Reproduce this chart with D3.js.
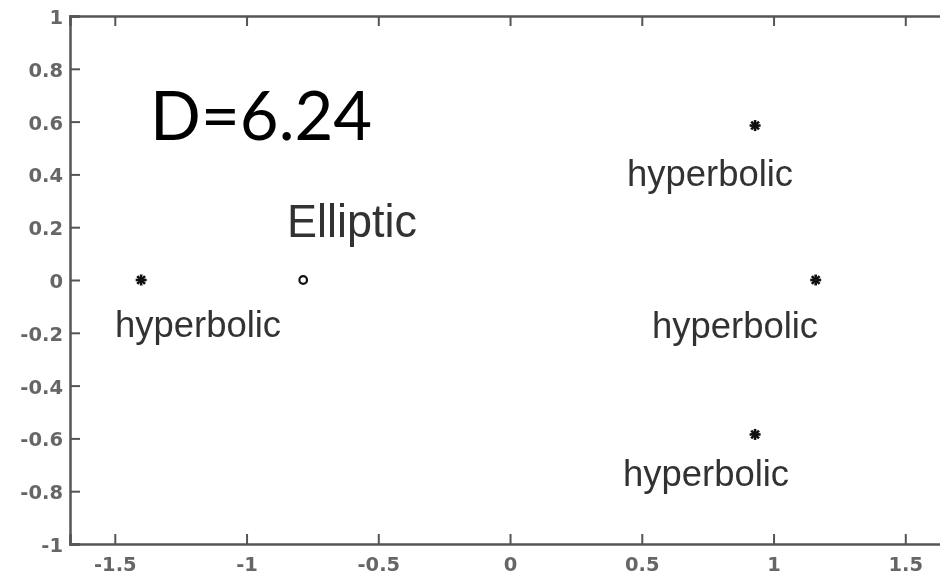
<!DOCTYPE html>
<html>
<head>
<meta charset="utf-8">
<script src="https://cdn.jsdelivr.net/npm/d3@7"></script>
<style>
	body { margin: 0; background: #fff; }
	svg { display: block; }
</style>
</head>
<body>
<div id="plot"></div>
<script>
	// Fixed points of the map for D=6.24

	const w = 940;
	const h = 579;

	const xTicks = [-1.5, -1, -0.5, 0, 0.5, 1, 1.5];
	const xTickLabels = ["-1.5", "-1", "-0.5", "0", "0.5", "1", "1.5"];
	const yTicks = [-1, -0.8, -0.6, -0.4, -0.2, 0, 0.2, 0.4, 0.6, 0.8, 1];
	const yTickLabels = ["-1", "-0.8", "-0.6", "-0.4", "-0.2", "0", "0.2", "0.4", "0.6", "0.8", "1"];

	const hyperbolicX = [-1.40, 0.93, 1.16, 0.93];
	const hyperbolicY = [0, 0.585, 0, -0.585];

	const ellipticX = [-0.785];
	const ellipticY = [0];

	const labelText = ["hyperbolic", "hyperbolic", "hyperbolic", "hyperbolic", "Elliptic"];
	const labelX = [-1.499, 0.444, 0.539, 0.429, -0.846];
	const labelY = [-0.216, 0.356, -0.22, -0.78, 0.163];

	const titleText = "D=6.24";
	const titleX = -1.366;
	const titleY = 0.53;

	let xScale = d3.scaleLinear()
		.domain([-1.67, 1.68])
		.range([70, 70 + 3.35 * 263.5]);

	let yScale = d3.scaleLinear()
		.domain([-1, 1])
		.range([544, 16]);

	const svg = d3.select("body")
		.select("div#plot")
		.append("svg")
		.attr("width", w)
		.attr("height", h);

	svg.append("rect")
		.attr("width", w)
		.attr("height", h)
		.attr("fill", "white");

	const defs = svg.append("defs");
	defs.append("filter")
		.attr("id", "soft")
		.append("feGaussianBlur")
		.attr("stdDeviation", 0.5);

	// axes (ticks pointing inward, like matlab)

	const axisColor = "#555";

	const bottomAxis = d3.axisBottom(xScale)
		.tickValues(xTicks)
		.tickSize(-10)
		.tickPadding(13)
		.tickFormat((d, i) => xTickLabels[i]);

	const topAxis = d3.axisTop(xScale)
		.tickValues(xTicks)
		.tickSize(-10)
		.tickFormat("");

	const leftAxis = d3.axisLeft(yScale)
		.tickValues(yTicks)
		.tickSize(-10)
		.tickPadding(7)
		.tickFormat((d, i) => yTickLabels[i]);

	const gx = svg.append("g")
		.attr("transform", `translate(0, ${yScale(-1)})`)
		.call(bottomAxis);

	const gt = svg.append("g")
		.attr("transform", `translate(0, ${yScale(1)})`)
		.call(topAxis);

	const gy = svg.append("g")
		.attr("transform", `translate(${xScale.range()[0]}, 0)`)
		.call(leftAxis);

	[gx, gt, gy].forEach(g => {
		g.select(".domain")
			.attr("stroke", axisColor)
			.attr("stroke-width", 2.5);
		g.selectAll(".tick line")
			.attr("stroke", axisColor)
			.attr("stroke-width", 2);
		g.selectAll(".tick text")
			.attr("fill", "#666")
			.attr("font-family", "DejaVu Sans")
			.attr("font-weight", "bold")
			.attr("font-size", 19.5)
			.attr("filter", "url(#soft)");
	});
	gy.selectAll(".tick text").attr("dy", "0.38em");

	// markers

	const pts = svg.append("g");

	pts.selectAll("g.hyp")
		.data(hyperbolicX)
		.enter().append("g")
		.attr("class", "hyp")
		.attr("transform", (d, i) => `translate(${xScale(d)}, ${yScale(hyperbolicY[i])})`)
		.each(function () {
			const g = d3.select(this);
			[0, 45, 90, 135].forEach(a => {
				g.append("line")
					.attr("x1", -5.5).attr("x2", 5.5)
					.attr("y1", 0).attr("y2", 0)
					.attr("transform", `rotate(${a})`)
					.attr("stroke", "#111")
					.attr("stroke-width", 2.6);
			});
		});

	pts.selectAll("circle.ell")
		.data(ellipticX)
		.enter().append("circle")
		.attr("class", "ell")
		.attr("cx", d => xScale(d))
		.attr("cy", (d, i) => yScale(ellipticY[i]))
		.attr("r", 3.8)
		.attr("fill", "none")
		.attr("stroke", "#111")
		.attr("stroke-width", 2.2);

	// labels

	svg.append("g")
		.selectAll("text")
		.data(labelText)
		.enter().append("text")
		.attr("x", (d, i) => xScale(labelX[i]))
		.attr("y", (d, i) => yScale(labelY[i]))
		.attr("font-family", "Liberation Sans, Arial, sans-serif")
		.attr("font-size", d => d == "Elliptic" ? 46 : 36)
		.attr("fill", "#333")
		.attr("filter", "url(#soft)")
		.attr("textLength", d => d == "Elliptic" ? 130 : 166)
		.attr("lengthAdjust", "spacingAndGlyphs")
		.text(d => d);

	svg.append("text")
		.attr("x", xScale(titleX))
		.attr("y", yScale(titleY))
		.attr("font-family", "Lato, sans-serif")
		.attr("font-size", 68)
		.attr("fill", "#000")
		.attr("textLength", 222)
		.attr("lengthAdjust", "spacingAndGlyphs")
		.text(titleText);
</script>
</body>
</html>
